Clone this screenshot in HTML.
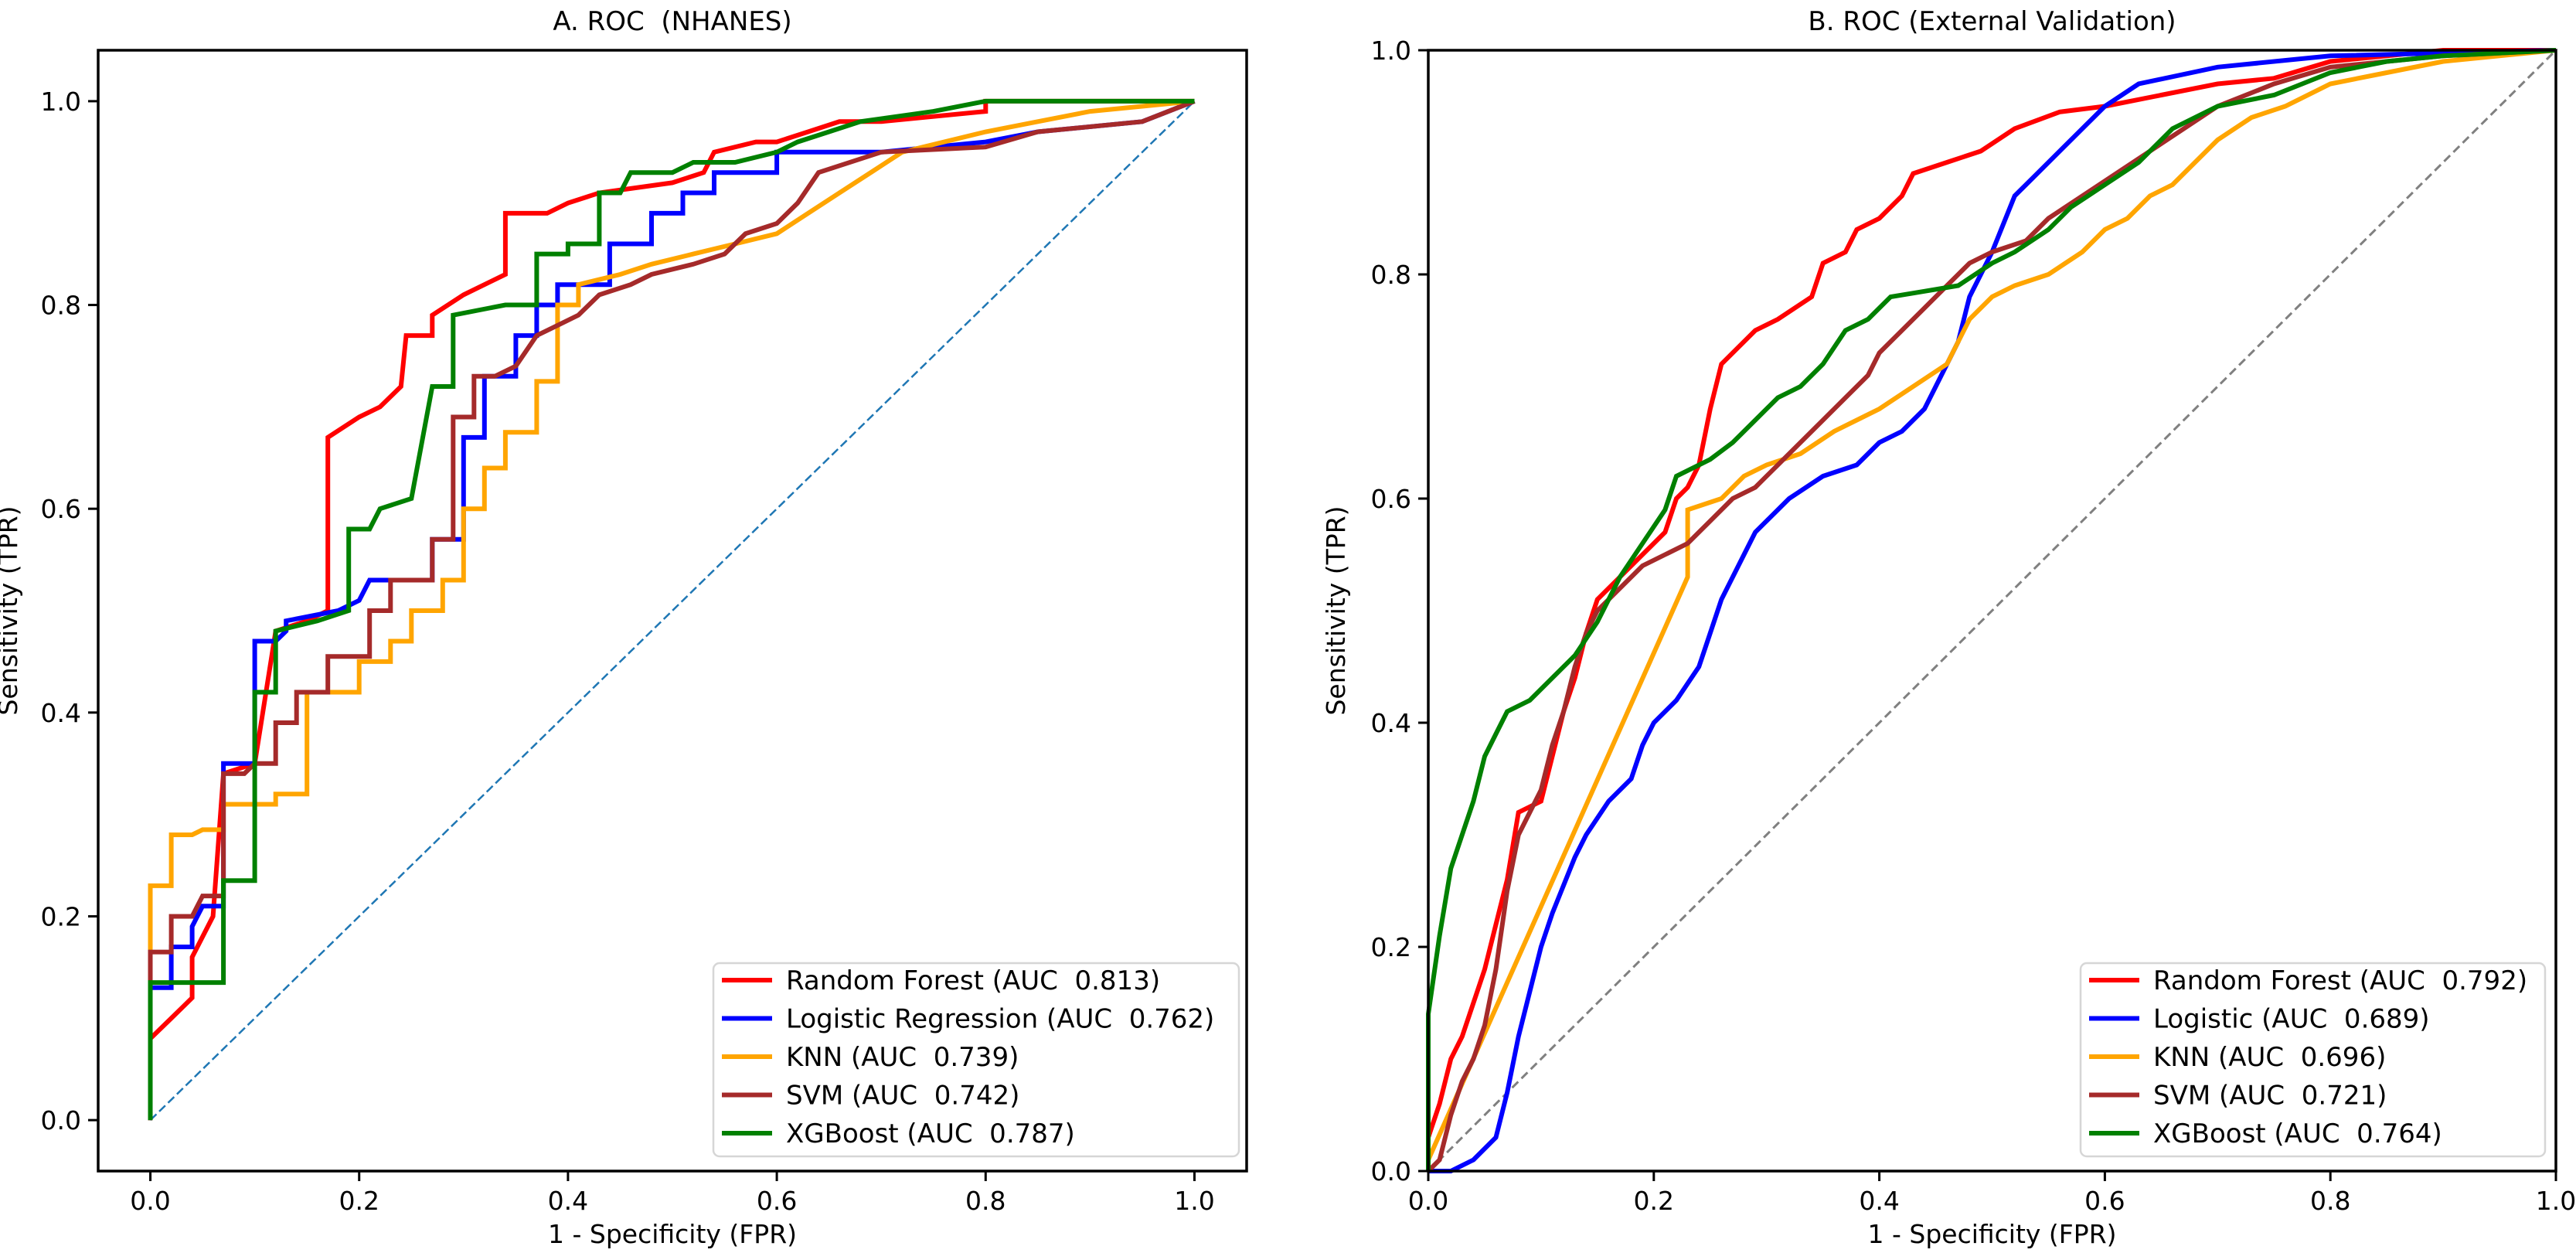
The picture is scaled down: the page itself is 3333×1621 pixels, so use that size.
<!DOCTYPE html>
<html><head><meta charset="utf-8"><style>
html,body{margin:0;padding:0;background:#fff}
svg{display:block}
text{font-family:"DejaVu Sans","Liberation Sans",sans-serif;fill:#000;white-space:pre}
</style></head><body>
<svg id="chart" width="3333" height="1621" viewBox="0 0 3333 1621" xmlns="http://www.w3.org/2000/svg"></svg>
<script>
const xTicks = [0, 0.2, 0.4, 0.6, 0.8, 1.0];
const yTicks = [0, 0.2, 0.4, 0.6, 0.8, 1.0];
const tickLabels = ["0.0","0.2","0.4","0.6","0.8","1.0"];
const namesA = ["Random Forest (AUC  0.813)","Logistic Regression (AUC  0.762)","KNN (AUC  0.739)","SVM (AUC  0.742)","XGBoost (AUC  0.787)"];
const namesB = ["Random Forest (AUC  0.792)","Logistic (AUC  0.689)","KNN (AUC  0.696)","SVM (AUC  0.721)","XGBoost (AUC  0.764)"];
const colors = ["#ff0000","#0000ff","#ffa500","#a52a2a","#008000"];

const rfA = [[0,0],[0,0.08],[0.02,0.10],[0.03,0.11],[0.04,0.12],[0.04,0.16],[0.06,0.2],[0.07,0.34],[0.1,0.35],[0.12,0.48],[0.15,0.49],[0.17,0.50],[0.17,0.67],[0.2,0.69],[0.22,0.70],[0.24,0.72],[0.245,0.77],[0.27,0.77],[0.27,0.79],[0.3,0.81],[0.32,0.82],[0.34,0.83],[0.34,0.89],[0.38,0.89],[0.4,0.90],[0.43,0.91],[0.5,0.92],[0.53,0.93],[0.54,0.95],[0.58,0.96],[0.6,0.96],[0.63,0.97],[0.66,0.98],[0.7,0.98],[0.8,0.99],[0.8,1.0],[1,1]];
const lrA = [[0,0],[0,0.13],[0.02,0.13],[0.02,0.17],[0.04,0.17],[0.04,0.19],[0.05,0.21],[0.07,0.21],[0.07,0.35],[0.1,0.35],[0.1,0.47],[0.12,0.47],[0.13,0.48],[0.13,0.49],[0.18,0.50],[0.2,0.51],[0.21,0.53],[0.27,0.53],[0.27,0.57],[0.3,0.57],[0.3,0.67],[0.32,0.67],[0.32,0.73],[0.35,0.73],[0.35,0.77],[0.37,0.77],[0.37,0.80],[0.39,0.80],[0.39,0.82],[0.44,0.82],[0.44,0.86],[0.48,0.86],[0.48,0.89],[0.51,0.89],[0.51,0.91],[0.54,0.91],[0.54,0.93],[0.6,0.93],[0.6,0.95],[0.7,0.95],[0.8,0.96],[0.85,0.97],[0.95,0.98],[1,1]];
const knnA = [[0,0],[0,0.23],[0.02,0.23],[0.02,0.28],[0.04,0.28],[0.05,0.285],[0.07,0.285],[0.07,0.31],[0.12,0.31],[0.12,0.32],[0.15,0.32],[0.15,0.42],[0.2,0.42],[0.2,0.45],[0.23,0.45],[0.23,0.47],[0.25,0.47],[0.25,0.50],[0.28,0.50],[0.28,0.53],[0.3,0.53],[0.3,0.60],[0.32,0.60],[0.32,0.64],[0.34,0.64],[0.34,0.675],[0.37,0.675],[0.37,0.725],[0.39,0.725],[0.39,0.80],[0.41,0.80],[0.41,0.82],[0.45,0.83],[0.48,0.84],[0.52,0.85],[0.56,0.86],[0.6,0.87],[0.63,0.89],[0.66,0.91],[0.69,0.93],[0.72,0.95],[0.8,0.97],[0.85,0.98],[0.9,0.99],[1,1]];
const svmA = [[0,0],[0,0.165],[0.02,0.165],[0.02,0.20],[0.04,0.20],[0.05,0.22],[0.07,0.22],[0.07,0.34],[0.09,0.34],[0.1,0.35],[0.12,0.35],[0.12,0.39],[0.14,0.39],[0.14,0.42],[0.17,0.42],[0.17,0.455],[0.21,0.455],[0.21,0.50],[0.23,0.50],[0.23,0.53],[0.27,0.53],[0.27,0.57],[0.29,0.57],[0.29,0.69],[0.31,0.69],[0.31,0.73],[0.33,0.73],[0.35,0.74],[0.37,0.77],[0.39,0.78],[0.41,0.79],[0.43,0.81],[0.46,0.82],[0.48,0.83],[0.52,0.84],[0.55,0.85],[0.57,0.87],[0.6,0.88],[0.62,0.90],[0.64,0.93],[0.7,0.95],[0.8,0.955],[0.85,0.97],[0.95,0.98],[1,1]];
const xgbA = [[0,0],[0,0.135],[0.07,0.135],[0.07,0.235],[0.1,0.235],[0.1,0.42],[0.12,0.42],[0.12,0.48],[0.16,0.49],[0.19,0.50],[0.19,0.58],[0.21,0.58],[0.22,0.60],[0.25,0.61],[0.27,0.72],[0.29,0.72],[0.29,0.79],[0.34,0.80],[0.37,0.80],[0.37,0.85],[0.4,0.85],[0.4,0.86],[0.43,0.86],[0.43,0.91],[0.45,0.91],[0.46,0.93],[0.5,0.93],[0.52,0.94],[0.56,0.94],[0.6,0.95],[0.62,0.96],[0.65,0.97],[0.68,0.98],[0.75,0.99],[0.8,1.0],[1,1]];

const rfB = [[0,0],[0,0.03],[0.01,0.06],[0.02,0.1],[0.03,0.12],[0.04,0.15],[0.05,0.18],[0.06,0.22],[0.07,0.26],[0.08,0.32],[0.1,0.33],[0.11,0.37],[0.12,0.41],[0.13,0.44],[0.14,0.48],[0.15,0.51],[0.17,0.53],[0.19,0.55],[0.21,0.57],[0.22,0.6],[0.23,0.61],[0.24,0.63],[0.25,0.68],[0.26,0.72],[0.27,0.73],[0.29,0.75],[0.31,0.76],[0.34,0.78],[0.35,0.81],[0.37,0.82],[0.38,0.84],[0.40,0.85],[0.42,0.87],[0.43,0.89],[0.46,0.90],[0.49,0.91],[0.52,0.93],[0.56,0.945],[0.6,0.95],[0.65,0.96],[0.7,0.97],[0.75,0.975],[0.8,0.99],[0.9,1.0],[1,1]];
const lrB = [[0,0],[0.02,0],[0.04,0.01],[0.06,0.03],[0.07,0.07],[0.08,0.12],[0.09,0.16],[0.1,0.2],[0.11,0.23],[0.13,0.28],[0.14,0.3],[0.16,0.33],[0.18,0.35],[0.19,0.38],[0.2,0.40],[0.22,0.42],[0.24,0.45],[0.25,0.48],[0.26,0.51],[0.28,0.55],[0.29,0.57],[0.3,0.58],[0.32,0.6],[0.35,0.62],[0.38,0.63],[0.4,0.65],[0.42,0.66],[0.44,0.68],[0.45,0.7],[0.47,0.74],[0.48,0.78],[0.5,0.82],[0.52,0.87],[0.54,0.89],[0.56,0.91],[0.58,0.93],[0.6,0.95],[0.63,0.97],[0.7,0.985],[0.8,0.995],[1,1]];
const knnB = [[0,0],[0,0.01],[0.23,0.53],[0.23,0.59],[0.26,0.6],[0.28,0.62],[0.3,0.63],[0.33,0.64],[0.36,0.66],[0.4,0.68],[0.43,0.7],[0.46,0.72],[0.48,0.76],[0.5,0.78],[0.52,0.79],[0.55,0.8],[0.58,0.82],[0.6,0.84],[0.62,0.85],[0.64,0.87],[0.66,0.88],[0.68,0.9],[0.7,0.92],[0.73,0.94],[0.76,0.95],[0.8,0.97],[0.85,0.98],[0.9,0.99],[1,1]];
const svmB = [[0,0],[0.01,0.01],[0.02,0.05],[0.03,0.08],[0.04,0.1],[0.05,0.13],[0.06,0.18],[0.07,0.25],[0.08,0.3],[0.09,0.32],[0.1,0.34],[0.11,0.38],[0.12,0.41],[0.13,0.45],[0.14,0.48],[0.15,0.5],[0.17,0.52],[0.19,0.54],[0.21,0.55],[0.23,0.56],[0.25,0.58],[0.27,0.6],[0.29,0.61],[0.31,0.63],[0.33,0.65],[0.35,0.67],[0.37,0.69],[0.39,0.71],[0.4,0.73],[0.42,0.75],[0.44,0.77],[0.46,0.79],[0.48,0.81],[0.5,0.82],[0.53,0.83],[0.55,0.85],[0.58,0.87],[0.61,0.89],[0.64,0.91],[0.67,0.93],[0.7,0.95],[0.75,0.97],[0.8,0.985],[0.9,0.995],[1,1]];
const xgbB = [[0,0],[0,0.14],[0.01,0.21],[0.02,0.27],[0.03,0.3],[0.04,0.33],[0.05,0.37],[0.06,0.39],[0.07,0.41],[0.09,0.42],[0.11,0.44],[0.13,0.46],[0.15,0.49],[0.17,0.53],[0.19,0.56],[0.21,0.59],[0.22,0.62],[0.25,0.635],[0.27,0.65],[0.29,0.67],[0.31,0.69],[0.33,0.70],[0.35,0.72],[0.37,0.75],[0.39,0.76],[0.41,0.78],[0.44,0.785],[0.47,0.79],[0.5,0.81],[0.52,0.82],[0.55,0.84],[0.57,0.86],[0.6,0.88],[0.63,0.9],[0.66,0.93],[0.7,0.95],[0.75,0.96],[0.8,0.98],[0.85,0.99],[0.9,0.995],[1,1]];

const NS = "http://www.w3.org/2000/svg";
const svg = document.getElementById("chart");
function mk(tag, attrs, parent){
  const e = document.createElementNS(NS, tag);
  for (const k in attrs) e.setAttribute(k, attrs[k]);
  (parent||svg).appendChild(e);
  return e;
}
function panel(cfg){
  const g = mk("g", {});
  
  
  const L=cfg.left,R=cfg.right,T=cfg.top,B=cfg.bottom;
  const sx = v => L + (v - cfg.xmin)/(cfg.xmax-cfg.xmin)*(R-L);
  const sy = v => B - (v - cfg.ymin)/(cfg.ymax-cfg.ymin)*(B-T);
  const d = mk("line", {x1:sx(0),y1:sy(0),x2:sx(1),y2:sy(1),stroke:cfg.diagColor,"stroke-width":cfg.diagW,"stroke-dasharray":cfg.diagDash}, g);
  
  
  cfg.series.forEach((s,i)=>{
    const p = mk("polyline", {points:s.map(q=>sx(q[0]).toFixed(1)+","+sy(q[1]).toFixed(1)).join(" "),fill:"none",stroke:colors[i],"stroke-width":6,"stroke-linejoin":"miter"}, g);
    
    
  });
  const f = mk("rect", {x:L,y:T,width:R-L,height:B-T,fill:"none",stroke:"#000","stroke-width":3.5}, g);
  
  
  xTicks.forEach((v,i)=>{
    mk("line",{x1:sx(v),y1:B,x2:sx(v),y2:B+13,stroke:"#000","stroke-width":3},g);
    const t = mk("text",{x:sx(v),y:B+50,"text-anchor":"middle","font-size":33},g);
    t.textContent = tickLabels[i];
    
    
  });
  yTicks.forEach((v,i)=>{
    mk("line",{x1:L-13,y1:sy(v),x2:L,y2:sy(v),stroke:"#000","stroke-width":3},g);
    const t = mk("text",{x:L-22,y:sy(v)+12,"text-anchor":"end","font-size":33},g);
    t.textContent = tickLabels[i];
    
    
  });
  const tt = mk("text",{x:(L+R)/2,y:39,"text-anchor":"middle","font-size":34},g);
  tt.textContent = cfg.title;
  
  
  const xl = mk("text",{x:(L+R)/2,y:1608,"text-anchor":"middle","font-size":33},g);
  xl.textContent = "1 - Specificity (FPR)";
  
  
  const yx = cfg.ylabX, yy=(T+B)/2;
  const yl = mk("text",{x:yx,y:yy,"text-anchor":"middle","font-size":33,transform:`rotate(-90 ${yx} ${yy})`},g);
  yl.textContent = "Sensitivity (TPR)";
  
  
  const lg = mk("g",{},g);
  
  
  mk("rect",{x:cfg.legX,y:1246,width:cfg.legW,height:250,rx:8,fill:"#fff","fill-opacity":0.85,stroke:"#d6d6d6","stroke-width":2.5},lg);
  cfg.names.forEach((n,i)=>{
    const cy = 1268 + i*49.5;
    mk("line",{x1:cfg.legX+11,y1:cy,x2:cfg.legX+76,y2:cy,stroke:colors[i],"stroke-width":6},lg);
    const t = mk("text",{x:cfg.legX+94,y:cy+12,"font-size":34},lg);
    t.textContent = n;
    
    
  });
}
panel({id:"panel-a-nhanes",left:127,right:1613,top:65,bottom:1515,xmin:-0.05,xmax:1.05,ymin:-0.05,ymax:1.05,
  diagColor:"#1f77b4",diagW:2.5,diagDash:"11,5",title:"A. ROC  (NHANES)",ylabX:22,legX:923,legW:680,
  series:[rfA,lrA,knnA,svmA,xgbA],names:namesA,keys:["random-forest","logistic-regression","knn","svm","xgboost"]});
panel({id:"panel-b-external",left:1848,right:3307,top:65,bottom:1515,xmin:0,xmax:1,ymin:0,ymax:1,
  diagColor:"#808080",diagW:3,diagDash:"11,6",title:"B. ROC (External Validation)",ylabX:1740,legX:2692,legW:601,
  series:[rfB,lrB,knnB,svmB,xgbB],names:namesB,keys:["random-forest","logistic","knn","svm","xgboost"]});
</script>
</body></html>
